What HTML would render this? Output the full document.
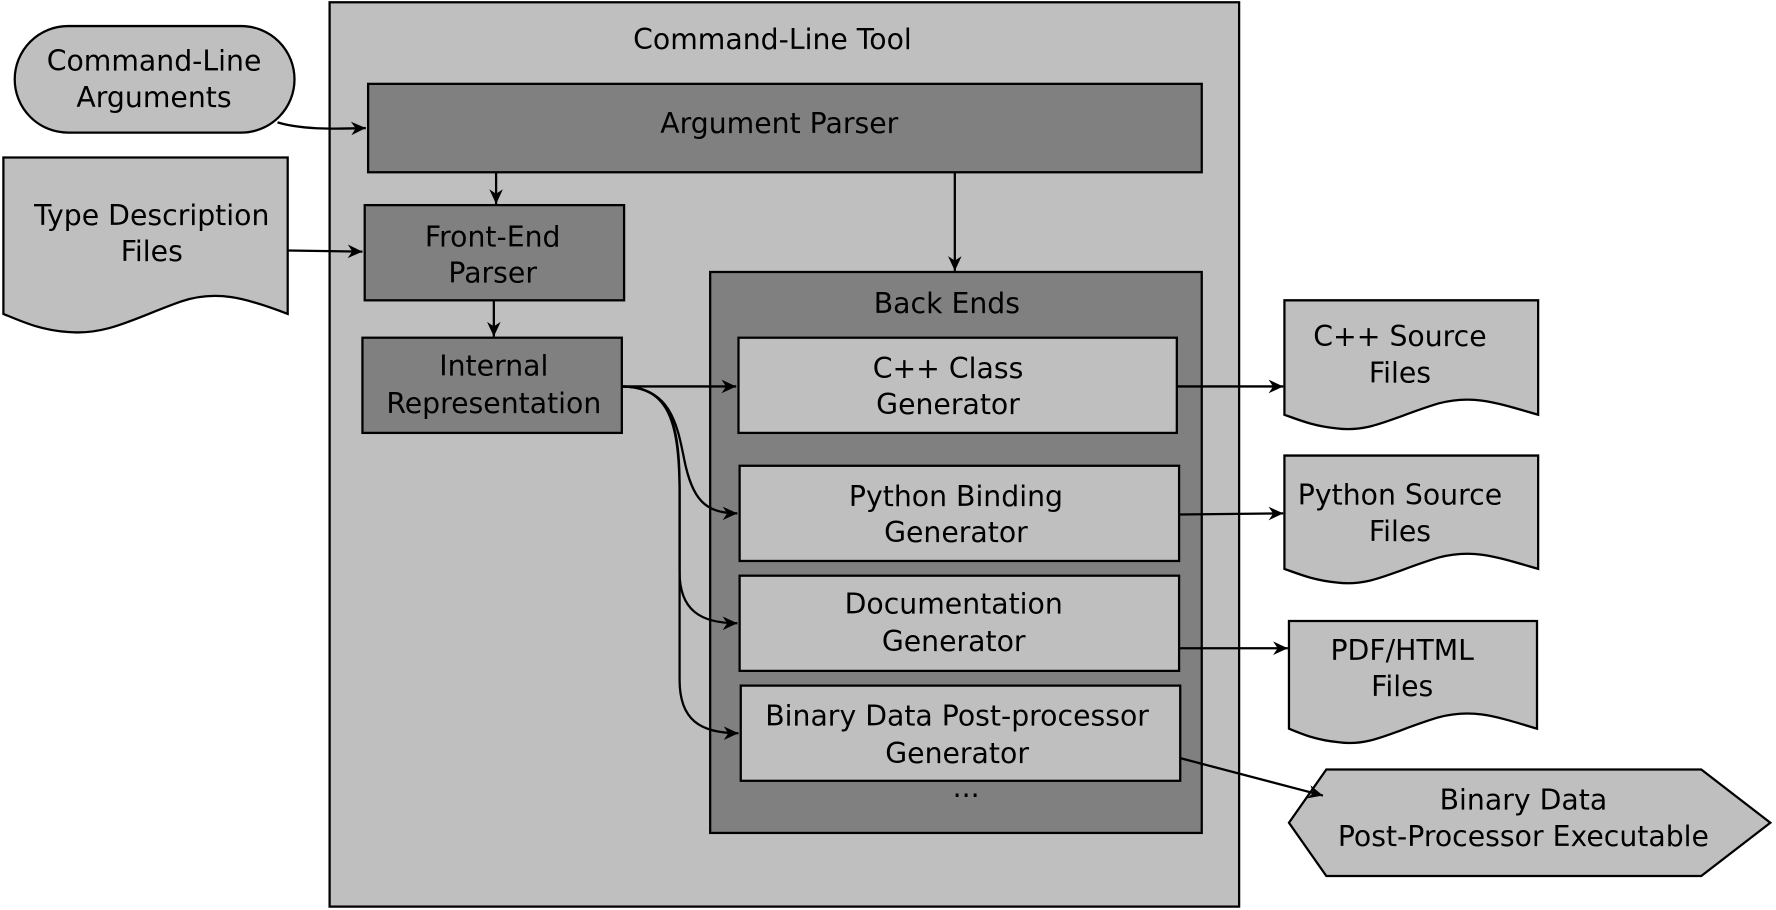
<!DOCTYPE html>
<html><head><meta charset="utf-8"><style>html,body{margin:0;padding:0;background:#fff}svg{display:block}</style></head>
<body>
<svg width="1776" height="910" viewBox="0 0 1568 803" preserveAspectRatio="none" xmlns="http://www.w3.org/2000/svg">
<defs><marker id="a" markerWidth="14" markerHeight="14" refX="13" refY="6" orient="auto" markerUnits="userSpaceOnUse"><path d="M0,0 L13,6 L0,12 L4,6 Z" fill="#000"/></marker></defs>
<g font-family="'DejaVu Sans','Liberation Sans',sans-serif" font-size="25" text-anchor="middle" dominant-baseline="central" fill="#000">
<rect x="291" y="2" width="803" height="798" fill="#bfbfbf" stroke="#000" stroke-width="2"/>
<text x="682" y="35">Command-Line Tool</text>
<rect x="13" y="23" width="247" height="94" rx="47" fill="#bfbfbf" stroke="#000" stroke-width="2"/>
<text x="136" y="54">Command-Line</text><text x="136" y="86">Arguments</text>
<rect x="325" y="74" width="736" height="78" fill="#808080" stroke="#000" stroke-width="2"/>
<text x="688" y="109">Argument Parser</text>
<path d="M3,139 H254 V277 C215,262 190,256 160,266 C120,280 95,296 60,293 C35,291 20,284 3,277 Z" fill="#bfbfbf" stroke="#000" stroke-width="2"/>
<text x="134" y="190">Type Description</text><text x="134" y="222">Files</text>
<rect x="322" y="181" width="229" height="84" fill="#808080" stroke="#000" stroke-width="2"/>
<text x="435" y="209">Front-End</text><text x="435" y="241">Parser</text>
<rect x="320" y="298" width="229" height="84" fill="#808080" stroke="#000" stroke-width="2"/>
<text x="436" y="323">Internal</text><text x="436" y="356">Representation</text>
<rect x="627" y="240" width="434" height="495" fill="#808080" stroke="#000" stroke-width="2"/>
<text x="836" y="268">Back Ends</text>
<rect x="652" y="298" width="387" height="84" fill="#bfbfbf" stroke="#000" stroke-width="2"/>
<text x="837" y="325">C++ Class</text><text x="837" y="357">Generator</text>
<rect x="653" y="411" width="388" height="84" fill="#bfbfbf" stroke="#000" stroke-width="2"/>
<text x="844" y="438">Python Binding</text><text x="844" y="470">Generator</text>
<rect x="653" y="508" width="388" height="84" fill="#bfbfbf" stroke="#000" stroke-width="2"/>
<text x="842" y="533">Documentation</text><text x="842" y="566">Generator</text>
<rect x="654" y="605" width="388" height="84" fill="#bfbfbf" stroke="#000" stroke-width="2"/>
<text x="845" y="632">Binary Data Post-processor</text><text x="845" y="665">Generator</text>
<text x="853" y="695">...</text>
<path d="M1134,265 H1358 V366 C1320,355 1300,348 1270,356 C1230,368 1210,382 1180,378 C1160,376 1148,371 1134,366 Z" fill="#bfbfbf" stroke="#000" stroke-width="2"/>
<text x="1236" y="297">C++ Source</text><text x="1236" y="329">Files</text>
<path d="M1134,402 H1358 V502 C1320,491 1300,484 1270,492 C1230,504 1210,518 1180,514 C1160,512 1148,507 1134,502 Z" fill="#bfbfbf" stroke="#000" stroke-width="2"/>
<text x="1236" y="437">Python Source</text><text x="1236" y="469">Files</text>
<path d="M1138,548 H1357 V643 C1320,632 1300,625 1270,633 C1230,645 1210,659 1182,655 C1162,653 1150,648 1138,643 Z" fill="#bfbfbf" stroke="#000" stroke-width="2"/>
<text x="1238" y="574">PDF/HTML</text><text x="1238" y="606">Files</text>
<polygon points="1138,726 1171,679 1502,679 1563,726 1502,773 1171,773" fill="#bfbfbf" stroke="#000" stroke-width="2"/>
<text x="1345" y="706">Binary Data</text><text x="1345" y="738">Post-Processor Executable</text>
</g>
<g fill="none" stroke="#000" stroke-width="2" marker-end="url(#a)">
<path d="M245,108 C265,114 290,114 323,113"/>
<path d="M254,221 L320,222"/>
<path d="M438,152 L438,180"/>
<path d="M843,152 L843,239"/>
<path d="M436,265 L436,297"/>
<path d="M549,341 L650,341"/>
<path d="M549,341 C592,341 598,375 604,405 C611,440 622,453 651,453"/>
<path d="M549,341 C592,341 599,375 600,430 L600,505 C600,538 618,550 651,550"/>
<path d="M549,341 C592,341 600,375 600,430 L600,600 C600,635 618,647 652,647"/>
<path d="M1039,341 L1133,341"/>
<path d="M1041,454 L1133,453"/>
<path d="M1041,572 L1137,572"/>
<path d="M1042,669 L1168,702"/>
</g>
</svg>
</body></html>
